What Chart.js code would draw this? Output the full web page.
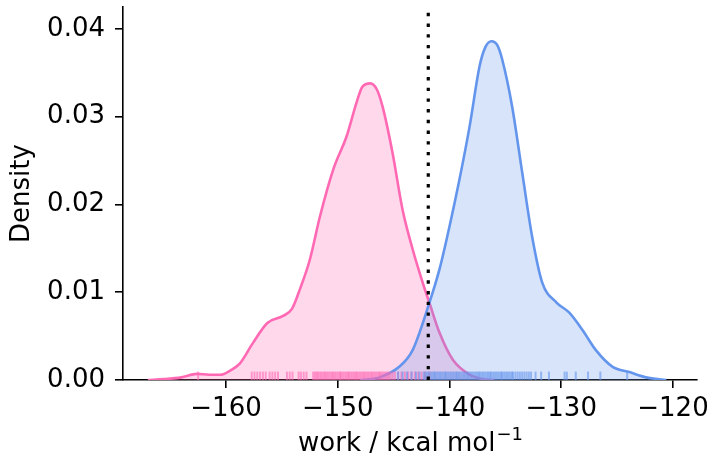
<!DOCTYPE html>
<html lang="en">
<head>
    <title>Work distributions</title>
    <meta charset="UTF-8">
    <style>
        body {
            margin: 0;
            background: #fff;
        }
        #plot {
            width: 715px;
            height: 460px;
        }
    </style>
</head>
<body>
<div id="plot">
    <canvas id="kde-plot"></canvas>
</div>
<script src="https://cdn.jsdelivr.net/npm/chart.js"></script>
<script>
    // KDE curves (work in kcal/mol, density)
    const pinkX = [-167.0, -165.5, -164.0, -162.6, -161.5, -160.5, -159.6, -158.75, -157.6, -156.3,
                   -154.9, -154.1, -153.4, -152.5, -151.6, -150.4, -149.2, -148.3, -147.8, -147.1,
                   -146.5, -146.0, -145.1, -144.2, -143.3, -142.4, -141.8, -140.9, -139.7, -138.2,
                   -137.0, -136.0];
    const pinkY = [0.0000, 0.0001, 0.0003, 0.0007, 0.0006, 0.0006, 0.0011, 0.0019, 0.0042, 0.0065,
                   0.0073, 0.0081, 0.0103, 0.0137, 0.0186, 0.0240, 0.0278, 0.0317, 0.0334, 0.0338,
                   0.0331, 0.0312, 0.0259, 0.0194, 0.0149, 0.0111, 0.0088, 0.0054, 0.0023, 0.0006,
                   0.0001, 0.0000];

    const blueX = [-148.0, -147.0, -146.25, -144.5, -143.3, -141.8, -140.9, -140.0, -139.1, -138.2,
                   -137.3, -136.8, -136.25, -135.7, -135.3, -134.4, -133.5, -132.6, -131.7, -130.4,
                   -129.3, -128.1, -126.9, -125.4, -123.9, -122.4, -120.6];
    const blueY = [0.0000, 0.0001, 0.0003, 0.0015, 0.0034, 0.0088, 0.0126, 0.0175, 0.0229, 0.0289,
                   0.0358, 0.0379, 0.0386, 0.0381, 0.0366, 0.0312, 0.0237, 0.0163, 0.0111, 0.0088,
                   0.0077, 0.0057, 0.0034, 0.0015, 0.0009, 0.0003, 0.0000];

    // individual samples shown as rug ticks
    const pinkRug = [-162.5,
        -157.7, -157.45, -157.2, -156.95, -156.7, -156.45, -156.1, -155.85, -155.6, -155.35,
        -154.55, -154.3, -154.05, -153.5, -153.3, -153.05, -152.8,
        -152.2, -152.05, -151.9, -151.8, -151.65, -151.5, -151.35, -151.2, -151.1, -150.95,
        -150.8, -150.65, -150.5, -150.4, -150.25, -150.1, -149.95, -149.8, -149.7, -149.55,
        -149.4, -149.25, -149.1, -149.0, -148.85, -148.7, -148.55, -148.4, -148.3, -148.15,
        -148.0, -147.85, -147.7, -147.6, -147.45, -147.3, -147.15, -147.0, -146.9, -146.75,
        -146.6, -146.45, -146.3, -146.2, -146.05, -145.9, -145.75, -145.6, -145.45, -145.3,
        -145.1, -144.9,
        -144.6, -144.3, -144.0, -143.7, -143.4, -143.1, -142.8, -142.5, -142.2, -141.8];
    const blueRug = [-144.6, -144.2, -143.8, -143.4, -143.0, -142.7,
        -142.3, -142.15, -142.0, -141.85, -141.7, -141.55, -141.4, -141.3, -141.15, -141.0,
        -140.85, -140.7, -140.55, -140.4, -140.3, -140.15, -140.0, -139.85, -139.7, -139.55,
        -139.4, -139.3, -139.15, -139.0, -138.85, -138.7, -138.55, -138.4, -138.3, -138.15,
        -138.0, -137.85, -137.7, -137.55, -137.4, -137.3, -137.15, -137.0, -136.85, -136.7,
        -136.55, -136.4, -136.3, -136.15, -136.0, -135.85, -135.7, -135.55, -135.4, -135.3,
        -135.15, -135.0, -134.85, -134.7, -134.55, -134.4, -134.3, -134.1, -133.9, -133.7,
        -133.5, -133.3, -133.1, -132.9, -132.7,
        -132.3, -131.8, -131.1, -129.7, -129.5, -128.7, -127.6, -126.5, -124.1];

    const cutoff = -141.9;

    const xTicks = [-160, -150, -140, -130, -120];
    const yTicks = [0.00, 0.01, 0.02, 0.03, 0.04];
    const xTitle = 'work / kcal mol';
    const xTitleSup = '\u22121';
    const yTitle = 'Density';

    const X_MIN = -169.22, X_MAX = -117.85;
    const Y_MIN = 0, Y_MAX = 0.0425;
    const RUG_Y = 0.00048;

    const zip = (xs, ys) => xs.map((x, i) => ({ x: x, y: ys[i] }));
    const rug = xs => xs.map(x => ({ x: x, y: RUG_Y }));

    const FAMILY = 'DejaVu Sans';
    const font = { family: FAMILY, size: 26 };

    // x title with a real superscript, like mathtext does it
    const xTitlePlugin = {
        id: 'xTitle',
        afterDraw(chart) {
            const c = chart.ctx;
            const area = chart.chartArea;
            const cx = (area.left + area.right) / 2;
            const base = 451;
            c.save();
            c.fillStyle = '#000';
            c.textBaseline = 'alphabetic';
            c.textAlign = 'left';
            c.font = '26px "' + FAMILY + '"';
            const w1 = c.measureText(xTitle).width;
            c.font = '18px "' + FAMILY + '"';
            const w2 = c.measureText(xTitleSup).width;
            const x0 = cx - (w1 + w2) / 2;
            c.font = '26px "' + FAMILY + '"';
            c.fillText(xTitle, x0, base);
            c.font = '18px "' + FAMILY + '"';
            c.fillText(xTitleSup, x0 + w1 + 1, base - 11);
            c.restore();
        }
    };

    const ctx = document.getElementById('kde-plot').getContext('2d');

    const kde_plot = new Chart(ctx, {
        type: 'line',
        data: {
            datasets: [
                {
                    label: 'cutoff',
                    data: [{ x: cutoff, y: Y_MIN }, { x: cutoff, y: Y_MAX }],
                    borderColor: '#000',
                    borderWidth: 3.2,
                    borderDash: [3.4, 7.3],
                    borderCapStyle: 'butt',
                    pointRadius: 0,
                    fill: false,
                    order: 0
                },
                {
                    label: 'blue rug',
                    data: rug(blueRug),
                    showLine: false,
                    pointStyle: 'line',
                    rotation: 90,
                    pointRadius: 4.2,
                    pointBorderWidth: 2,
                    pointBorderColor: 'rgba(100, 149, 237, 0.6)',
                    order: 1
                },
                {
                    label: 'pink rug',
                    data: rug(pinkRug),
                    showLine: false,
                    pointStyle: 'line',
                    rotation: 90,
                    pointRadius: 4.2,
                    pointBorderWidth: 2,
                    pointBorderColor: 'rgba(255, 105, 180, 0.6)',
                    order: 2
                },
                {
                    label: 'blue',
                    data: zip(blueX, blueY),
                    borderColor: 'rgb(100, 149, 237)',
                    backgroundColor: 'rgba(100, 149, 237, 0.26)',
                    borderWidth: 2.6,
                    cubicInterpolationMode: 'monotone',
                    pointRadius: 0,
                    fill: 'origin',
                    order: 3
                },
                {
                    label: 'pink',
                    data: zip(pinkX, pinkY),
                    borderColor: 'rgb(255, 105, 180)',
                    backgroundColor: 'rgba(255, 105, 180, 0.26)',
                    borderWidth: 2.6,
                    cubicInterpolationMode: 'monotone',
                    pointRadius: 0,
                    fill: 'origin',
                    order: 4
                }
            ]
        },
        options: {
            responsive: true,
            maintainAspectRatio: false,
            animation: false,
            layout: {
                padding: { top: 7, right: 18, left: 0, bottom: 0 }
            },
            plugins: {
                legend: { display: false },
                tooltip: { enabled: false }
            },
            scales: {
                x: {
                    type: 'linear',
                    min: X_MIN,
                    max: X_MAX,
                    afterBuildTicks: scale => { scale.ticks = xTicks.map(v => ({ value: v })); },
                    afterFit: scale => {
                        scale.height = 80;
                        scale.paddingLeft = 0;
                        scale.paddingRight = 0;
                    },
                    ticks: {
                        color: '#000',
                        font: font,
                        padding: 6,
                        maxRotation: 0,
                        callback: v => (v < 0 ? '\u2212' + Math.abs(v) : String(v))
                    },
                    grid: {
                        drawOnChartArea: false,
                        drawTicks: true,
                        tickLength: 8,
                        color: '#000',
                        lineWidth: 1.6
                    },
                    border: { display: true, color: '#000', width: 1.6 },
                    title: { display: false }
                },
                y: {
                    type: 'linear',
                    min: Y_MIN,
                    max: Y_MAX,
                    afterBuildTicks: scale => { scale.ticks = yTicks.map(v => ({ value: v })); },
                    afterFit: scale => {
                        scale.width = 123;
                        scale.paddingTop = 0;
                        scale.paddingBottom = 0;
                    },
                    ticks: {
                        color: '#000',
                        font: font,
                        padding: 10,
                        callback: v => v.toFixed(2)
                    },
                    grid: {
                        drawOnChartArea: false,
                        drawTicks: true,
                        tickLength: 8,
                        color: '#000',
                        lineWidth: 1.6
                    },
                    border: { display: true, color: '#000', width: 1.6 },
                    title: {
                        display: true,
                        text: yTitle,
                        color: '#000',
                        font: font,
                        padding: { top: 7, bottom: 0 }
                    }
                }
            }
        },
        plugins: [xTitlePlugin]
    });
</script>
</body>
</html>
